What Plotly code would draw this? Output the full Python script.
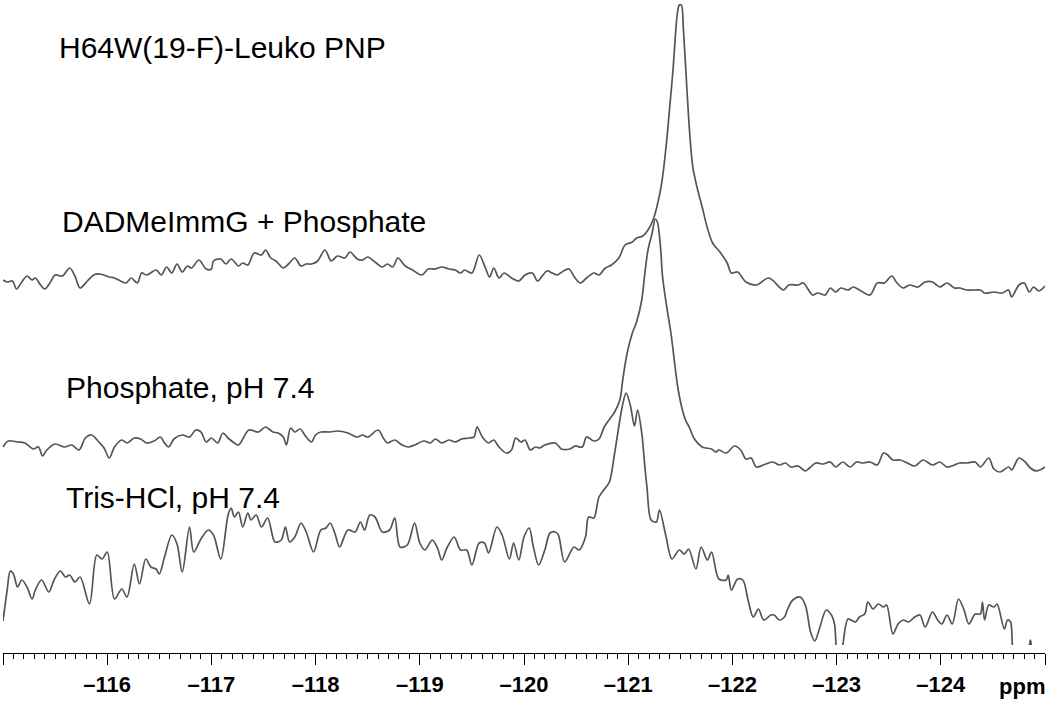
import plotly.graph_objects as go

# 19F NMR spectra, H64W(19-F)-Leuko PNP; chemical shift (ppm) and intensity (arb. units, relative to own baseline)
dadme_ppm = [-115.00, -115.04, -115.09, -115.13, -115.18, -115.23, -115.28, -115.31, -115.36, -115.40,
             -115.45, -115.50, -115.57, -115.64, -115.69, -115.74, -115.81, -115.87, -115.93, -116.02,
             -116.07, -116.18, -116.23, -116.29, -116.33, -116.38, -116.47, -116.52, -116.57, -116.62,
             -116.67, -116.72, -116.77, -116.81, -116.88, -116.95, -117.00, -117.02, -117.09, -117.14,
             -117.19, -117.26, -117.30, -117.35, -117.41, -117.48, -117.52, -117.57, -117.62, -117.69,
             -117.74, -117.80, -117.86, -117.91, -117.96, -118.02, -118.09, -118.15, -118.21, -118.28,
             -118.33, -118.40, -118.45, -118.50, -118.57, -118.64, -118.69, -118.74, -118.79, -118.86,
             -118.93, -119.02, -119.08, -119.15, -119.21, -119.28, -119.34, -119.39, -119.43, -119.50,
             -119.57, -119.63, -119.67, -119.71, -119.76, -119.81, -119.88, -119.95, -120.01, -120.08,
             -120.13, -120.22, -120.27, -120.32, -120.35, -120.43, -120.49, -120.54, -120.60, -120.67,
             -120.72, -120.78, -120.84, -120.91, -120.97, -121.04, -121.08, -121.14, -121.19, -121.23,
             -121.26, -121.29, -121.31, -121.33, -121.37, -121.40, -121.43, -121.45, -121.47, -121.49,
             -121.51, -121.53, -121.56, -121.59, -121.62, -121.66, -121.71, -121.76, -121.81, -121.88,
             -121.95, -121.99, -122.05, -122.13, -122.23, -122.35, -122.49, -122.54, -122.63, -122.68,
             -122.77, -122.82, -122.89, -122.94, -122.99, -123.04, -123.11, -123.16, -123.22, -123.32,
             -123.39, -123.46, -123.53, -123.58, -123.64, -123.70, -123.78, -123.85, -123.92, -123.99,
             -124.06, -124.13, -124.18, -124.25, -124.32, -124.38, -124.42, -124.51, -124.59, -124.65,
             -124.68, -124.75, -124.80, -124.85, -124.89, -124.94, -125.00]
dadme_int = [0, -2, -1, -9, -2, 4, 0, 2, -5, -9,
             -3, 5, 4, 12, 4, -8, -1, 5, 6, 3,
             2, -3, 2, -3, 7, 5, 10, 5, 13, 7,
             16, 8, 14, 12, 20, 11, 11, 19, 21, 16,
             21, 14, 17, 15, 27, 25, 30, 22, 19, 12,
             16, 22, 14, 16, 16, 19, 30, 19, 24, 22,
             28, 21, 20, 23, 18, 13, 16, 13, 22, 14,
             10, 5, 11, 11, 13, 11, 10, 7, 10, 7,
             25, 12, 3, 12, 2, 7, 2, -1, 5, 7,
             -1, 9, 7, 5, 7, 11, 2, -3, 2, 7,
             5, 12, 15, 22, 35, 38, 42, 44, 50, 58,
             67, 80, 90, 103, 140, 175, 210, 240, 265, 275,
             275, 250, 197, 147, 113, 93, 73, 52, 37, 28,
             17, 7, 8, -2, -5, 2, -10, -5, -5, -3,
             -15, -13, -15, -8, -12, -8, -10, -7, -10, -15,
             -3, -3, 4, -3, -8, -5, -7, -2, -2, -7,
             -3, -8, -8, -10, -10, -10, -13, -12, -13, -10,
             -17, -5, -3, -12, -7, -11, -6]

phos_ppm = [-115.00, -115.05, -115.14, -115.21, -115.29, -115.34, -115.38, -115.42, -115.50, -115.59,
            -115.66, -115.73, -115.79, -115.85, -115.92, -115.97, -116.02, -116.07, -116.14, -116.19,
            -116.26, -116.32, -116.38, -116.45, -116.51, -116.55, -116.59, -116.64, -116.72, -116.79,
            -116.85, -116.90, -116.95, -117.00, -117.06, -117.11, -117.16, -117.22, -117.26, -117.36,
            -117.45, -117.52, -117.59, -117.64, -117.69, -117.72, -117.76, -117.80, -117.85, -117.91,
            -117.96, -118.00, -118.05, -118.14, -118.21, -118.31, -118.40, -118.45, -118.50, -118.60,
            -118.65, -118.69, -118.76, -118.83, -118.89, -118.95, -119.04, -119.10, -119.15, -119.21,
            -119.28, -119.34, -119.40, -119.47, -119.52, -119.55, -119.60, -119.66, -119.71, -119.76,
            -119.83, -119.88, -119.92, -119.97, -120.01, -120.06, -120.11, -120.15, -120.20, -120.30,
            -120.36, -120.44, -120.49, -120.56, -120.60, -120.67, -120.72, -120.77, -120.83, -120.87,
            -120.92, -120.95, -120.99, -121.04, -121.08, -121.13, -121.16, -121.19, -121.23, -121.26,
            -121.28, -121.31, -121.33, -121.37, -121.41, -121.45, -121.48, -121.52, -121.55, -121.59,
            -121.63, -121.71, -121.80, -121.84, -121.87, -121.94, -122.02, -122.08, -122.13, -122.18,
            -122.23, -122.32, -122.39, -122.45, -122.51, -122.56, -122.63, -122.70, -122.74, -122.80,
            -122.87, -122.94, -122.99, -123.06, -123.13, -123.19, -123.25, -123.32, -123.39, -123.45,
            -123.49, -123.54, -123.61, -123.68, -123.75, -123.83, -123.92, -123.99, -124.06, -124.13,
            -124.18, -124.25, -124.33, -124.38, -124.46, -124.51, -124.57, -124.65, -124.68, -124.75,
            -124.81, -124.86, -124.92, -125.00]
phos_int = [-2, 4, 3, 2, -4, -2, -11, -5, 1, -2,
            0, -5, 7, 10, 3, -3, -13, -2, 5, 2,
            7, 6, 2, 4, 8, 2, -2, 6, 10, 8,
            15, 13, 3, 7, 2, 12, 7, 2, 0, 15,
            13, 18, 13, 12, 8, 0, 17, 13, 16, 8,
            3, 10, 13, 13, 14, 12, 8, 10, 8, 15,
            7, 2, 5, 0, -2, 0, 4, 2, 6, 2,
            5, 3, 6, 7, 8, 18, 8, 2, 5, -2,
            -8, -5, 7, 3, 5, -5, -2, -3, 0, 2,
            -4, -4, -1, -2, 8, 4, 6, 18, 27, 33,
            45, 67, 92, 112, 123, 145, 172, 195, 212, 226,
            223, 198, 168, 138, 112, 78, 55, 35, 25, 17,
            7, -2, -4, -7, -5, -8, -1, -5, -14, -13,
            -22, -19, -17, -20, -18, -22, -21, -26, -23, -18,
            -19, -17, -22, -17, -22, -17, -18, -17, -20, -8,
            -10, -15, -15, -18, -21, -15, -20, -17, -22, -20,
            -18, -18, -17, -22, -13, -24, -27, -22, -25, -13,
            -17, -23, -26, -22]

tris_ppm = [-115.00, -115.04, -115.07, -115.10, -115.14, -115.18, -115.23, -115.28, -115.31, -115.37,
            -115.44, -115.49, -115.55, -115.60, -115.64, -115.69, -115.74, -115.83, -115.90, -115.95,
            -116.00, -116.07, -116.14, -116.19, -116.26, -116.31, -116.37, -116.42, -116.47, -116.50,
            -116.55, -116.62, -116.67, -116.72, -116.79, -116.83, -116.90, -116.97, -117.02, -117.09,
            -117.16, -117.19, -117.22, -117.26, -117.30, -117.35, -117.38, -117.43, -117.48, -117.54,
            -117.61, -117.67, -117.71, -117.75, -117.80, -117.86, -117.91, -117.98, -118.05, -118.10,
            -118.14, -118.19, -118.23, -118.31, -118.38, -118.43, -118.47, -118.52, -118.57, -118.64,
            -118.71, -118.76, -118.81, -118.88, -118.95, -119.00, -119.05, -119.12, -119.17, -119.21,
            -119.26, -119.33, -119.39, -119.45, -119.50, -119.57, -119.62, -119.66, -119.74, -119.79,
            -119.86, -119.90, -119.95, -120.00, -120.05, -120.09, -120.14, -120.20, -120.25, -120.30,
            -120.33, -120.39, -120.48, -120.53, -120.59, -120.62, -120.67, -120.72, -120.78, -120.82,
            -120.87, -120.92, -120.95, -120.98, -121.02, -121.06, -121.09, -121.13, -121.16, -121.18,
            -121.22, -121.27, -121.30, -121.36, -121.42, -121.49, -121.54, -121.58, -121.65, -121.70,
            -121.76, -121.80, -121.87, -121.94, -121.96, -121.99, -122.05, -122.10, -122.15, -122.20,
            -122.25, -122.30, -122.37, -122.40, -122.45, -122.50, -122.53, -122.58, -122.65, -122.70,
            -122.75, -122.79, -122.84, -122.90, -122.95, -122.98, -123.01, -123.04, -123.11, -123.18,
            -123.22, -123.27, -123.30, -123.35, -123.40, -123.45, -123.48, -123.54, -123.59, -123.64,
            -123.69, -123.75, -123.80, -123.85, -123.92, -123.97, -124.01, -124.06, -124.11, -124.17,
            -124.22, -124.27, -124.33, -124.38, -124.40, -124.42, -124.46, -124.51, -124.54, -124.61,
            -124.64, -124.67, -124.71, -124.83, -124.86, -124.89, -125.00]
tris_int = [-46, -15, 4, 1, -12, -5, -12, -24, -15, -5,
            -17, -5, 4, -2, 0, -7, -2, -29, 20, 16,
            23, -24, -14, -22, 11, -9, 16, 8, 6, 1,
            18, 40, 31, 3, 48, 23, 36, 45, 40, 16,
            60, 67, 58, 63, 48, 62, 55, 60, 48, 57,
            33, 35, 48, 33, 38, 52, 43, 23, 45, 47,
            52, 40, 28, 45, 43, 53, 45, 60, 58, 43,
            45, 57, 28, 30, 52, 32, 25, 35, 27, 15,
            27, 38, 25, 25, 10, 32, 32, 22, 48, 40,
            16, 32, 15, 38, 47, 28, 10, 25, 42, 43,
            40, 13, 28, 25, 38, 58, 57, 78, 87, 93,
            122, 155, 172, 182, 170, 149, 165, 142, 108, 88,
            55, 53, 65, 40, 16, 25, 21, 26, 6, 28,
            15, 23, -4, -5, 0, -15, -4, -5, -25, -42,
            -34, -45, -40, -40, -45, -42, -34, -25, -22, -30,
            -57, -66, -52, -35, -40, -49, -78, -78, -44, -47,
            -42, -39, -27, -34, -29, -32, -30, -59, -49, -45,
            -47, -42, -40, -52, -37, -45, -49, -40, -49, -24,
            -34, -49, -39, -39, -27, -45, -30, -32, -29, -54,
            -45, -47, -80, -80, -65, -80, -80]

spectra = [
    ("DADMeImmG + Phosphate", dadme_ppm, dadme_int, 365),
    ("Phosphate, pH 7.4", phos_ppm, phos_int, 200),
    ("Tris-HCl, pH 7.4", tris_ppm, tris_int, 70),
]
title_text = "H64W(19-F)-Leuko PNP"
tick_ppm = list(range(-115, -126, -1))
tick_text = ["" if t in (-115, -125) else "\u2013" + str(abs(t)) for t in tick_ppm]

fig = go.Figure()
for name, xs, ys, off in spectra:
    fig.add_trace(go.Scatter(
        x=xs, y=[v + off for v in ys], mode="lines", name=name,
        line=dict(color="#555555", width=1.7, shape="spline", smoothing=0.9),
        hoverinfo="skip",
    ))

label_font = dict(family="Liberation Sans, Arial, sans-serif", size=30, color="black")
labels = [(title_text, -115.52, 598), ("DADMeImmG + Phosphate", -115.55, 424),
          ("Phosphate, pH 7.4", -115.59, 258), ("Tris-HCl, pH 7.4", -115.59, 148)]
for txt, lx, ly in labels:
    fig.add_annotation(x=lx, y=ly, text=txt, showarrow=False, xanchor="left", yanchor="middle",
                       font=label_font)

# unit label sits below the plot area, so refer it to paper in y
fig.add_annotation(x=-124.78, xref="x", y=-0.052, yref="paper", text="ppm", showarrow=False,
                   xanchor="center", yanchor="middle",
                   font=dict(family="Liberation Sans, Arial, sans-serif", size=22, color="black", weight="bold"))

fig.update_layout(
    width=1050, height=704,
    margin=dict(l=3, r=5, t=0, b=51),
    paper_bgcolor="white", plot_bgcolor="white",
    showlegend=False,
    xaxis=dict(
        range=[-115, -125], anchor="free", position=0,
        showline=True, linecolor="black", linewidth=1.2,
        showgrid=False, zeroline=False,
        tickmode="array", tickvals=tick_ppm, ticktext=tick_text,
        ticks="outside", ticklen=11, tickwidth=1, tickcolor="black",
        tickfont=dict(family="Liberation Sans, Arial, sans-serif", size=22, color="black", weight="bold"),
        minor=dict(ticks="outside", ticklen=5, tickwidth=1, tickcolor="black", dtick=0.1, tick0=-115),
    ),
    yaxis=dict(range=[0, 645], domain=[8 / 653, 1], visible=False),
)

fig.write_html("out.html", config={"displayModeBar": False},
               post_script="document.body.style.margin='0';")
